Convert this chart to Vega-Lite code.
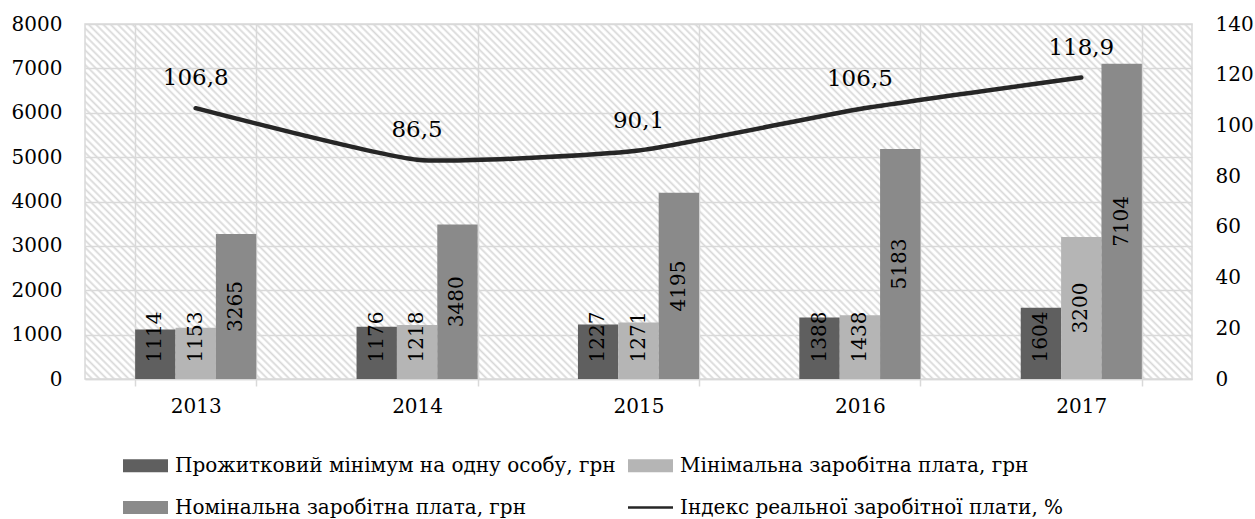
{
  "$schema": "https://vega.github.io/schema/vega-lite/v6.json",
  "width": 1107,
  "height": 355,
  "autosize": {"type": "none"},
  "padding": {"left": 85, "top": 24, "right": 63, "bottom": 140},
  "background": "white",
  "datasets": {
    "bars": [
      {"year": "2013", "series": "Прожитковий мінімум на одну особу, грн", "value": 1114},
      {"year": "2013", "series": "Мінімальна заробітна плата, грн", "value": 1153},
      {"year": "2013", "series": "Номінальна заробітна плата, грн", "value": 3265},
      {"year": "2014", "series": "Прожитковий мінімум на одну особу, грн", "value": 1176},
      {"year": "2014", "series": "Мінімальна заробітна плата, грн", "value": 1218},
      {"year": "2014", "series": "Номінальна заробітна плата, грн", "value": 3480},
      {"year": "2015", "series": "Прожитковий мінімум на одну особу, грн", "value": 1227},
      {"year": "2015", "series": "Мінімальна заробітна плата, грн", "value": 1271},
      {"year": "2015", "series": "Номінальна заробітна плата, грн", "value": 4195},
      {"year": "2016", "series": "Прожитковий мінімум на одну особу, грн", "value": 1388},
      {"year": "2016", "series": "Мінімальна заробітна плата, грн", "value": 1438},
      {"year": "2016", "series": "Номінальна заробітна плата, грн", "value": 5183},
      {"year": "2017", "series": "Прожитковий мінімум на одну особу, грн", "value": 1604},
      {"year": "2017", "series": "Мінімальна заробітна плата, грн", "value": 3200},
      {"year": "2017", "series": "Номінальна заробітна плата, грн", "value": 7104}
    ],
    "line": [
      {"year": "2013", "index": 106.8},
      {"year": "2014", "index": 86.5},
      {"year": "2015", "index": 90.1},
      {"year": "2016", "index": 106.5},
      {"year": "2017", "index": 118.9}
    ]
  },
  "encoding": {
    "x": {
      "field": "year",
      "type": "nominal",
      "scale": {"paddingInner": 0.453, "paddingOuter": 0.2265},
      "axis": {
        "title": null,
        "labelAngle": 0,
        "grid": true,
        "gridColor": "#d9d9d9",
        "gridWidth": 1.5,
        "tickBand": "extent",
        "ticks": true,
        "tickColor": "#d9d9d9",
        "tickWidth": 1.5,
        "tickSize": 7,
        "domainColor": "#d9d9d9",
        "domainWidth": 1.5,
        "labelPadding": 10,
        "zindex": 0
      }
    }
  },
  "layer": [
    {
      "data": {"name": "bars"},
      "layer": [
        {
          "mark": {"type": "bar"},
          "encoding": {
            "xOffset": {
              "field": "series",
              "type": "nominal",
              "scale": {"paddingInner": 0, "paddingOuter": 0, "domain": ["Прожитковий мінімум на одну особу, грн", "Мінімальна заробітна плата, грн", "Номінальна заробітна плата, грн"]}
            },
            "y": {
              "field": "value",
              "type": "quantitative",
              "scale": {"domain": [0, 8000], "nice": false},
              "axis": {
                "title": null,
                "values": [0, 1000, 2000, 3000, 4000, 5000, 6000, 7000, 8000],
                "format": "d",
                "grid": true,
                "gridColor": "#d9d9d9",
                "gridWidth": 1.5,
                "ticks": false,
                "domain": false,
                "labelPadding": 23,
                "zindex": 0
              }
            },
            "color": {
              "field": "series",
              "type": "nominal",
              "scale": {
                "domain": ["Прожитковий мінімум на одну особу, грн", "Мінімальна заробітна плата, грн", "Номінальна заробітна плата, грн", "Індекс реальної заробітної плати, %"],
                "range": ["#5f5f5f", "#b5b5b5", "#8a8a8a", "#262626"]
              },
              "legend": {
                "title": null,
                "orient": "none",
                "legendX": 38,
                "legendY": 419,
                "columns": 2,
                "values": ["Прожитковий мінімум на одну особу, грн", "Номінальна заробітна плата, грн", "Мінімальна заробітна плата, грн", "Індекс реальної заробітної плати, %"],
                "symbolSize": 2025,
                "symbolType": "M-1,-0.29H1V0.29H-1Z",
                "symbolStrokeWidth": 0,
                "labelOffset": 7,
                "columnPadding": 12,
                "rowPadding": 9,
                "labelFontSize": 20,
                "labelFont": "DejaVu Serif",
                "labelColor": "#000000",
                "labelLimit": 0,
                "encode": {
                  "symbols": {
                    "update": {
                      "shape": {"signal": "datum.value === 'Індекс реальної заробітної плати, %' ? 'M-1,-0.06H1V0.06H-1Z' : 'M-1,-0.29H1V0.29H-1Z'"},
                      "fill": {"scale": "color", "field": "value"},
                      "stroke": {"value": "transparent"},
                      "opacity": {"value": 1},
                      "fillOpacity": {"value": 1}
                    }
                  }
                }
              }
            }
          }
        },
        {
          "transform": [{"calculate": "max(datum.value / 2, 946)", "as": "labelY"}],
          "mark": {"type": "text", "angle": 270, "align": "center", "baseline": "middle", "fontSize": 20, "font": "DejaVu Serif", "color": "#000000"},
          "encoding": {
            "xOffset": {
              "field": "series",
              "type": "nominal",
              "scale": {"paddingInner": 0, "paddingOuter": 0, "domain": ["Прожитковий мінімум на одну особу, грн", "Мінімальна заробітна плата, грн", "Номінальна заробітна плата, грн"]}
            },
            "y": {"field": "labelY", "type": "quantitative"},
            "text": {"field": "value", "type": "quantitative", "format": "d"}
          }
        }
      ]
    },
    {
      "data": {"name": "line"},
      "layer": [
        {
          "mark": {"type": "line", "interpolate": "cardinal", "tension": 0.5, "strokeWidth": 4.5, "strokeCap": "round"},
          "encoding": {
            "y": {
              "field": "index",
              "type": "quantitative",
              "scale": {"domain": [0, 140], "nice": false},
              "axis": {
                "title": null,
                "orient": "right",
                "values": [0, 20, 40, 60, 80, 100, 120, 140],
                "format": "d",
                "grid": false,
                "ticks": false,
                "domain": false,
                "labelPadding": 23
              }
            },
            "color": {"datum": "Індекс реальної заробітної плати, %", "type": "nominal"}
          }
        },
        {
          "mark": {"type": "text", "dy": -30, "fontSize": 23, "font": "DejaVu Serif", "color": "#000000"},
          "encoding": {
            "y": {"field": "index", "type": "quantitative"},
            "text": {"field": "index", "type": "quantitative", "format": ".1f"}
          }
        }
      ]
    }
  ],
  "resolve": {"scale": {"y": "independent"}},
  "config": {
    "locale": {"number": {"decimal": ",", "thousands": " ", "grouping": [3], "currency": ["", ""]}},
    "view": {
      "stroke": "#d9d9d9",
      "strokeWidth": 1.5,
      "fill": {
        "gradient": "linear",
        "x1": 0, "y1": 1, "x2": 1.1976, "y2": 0.6159,
        "stops": [
{"offset":0,"color":"#d8d8d8"},{"offset":0.0017,"color":"#fff"},{"offset":0.0033,"color":"#fff"},{"offset":0.005,"color":"#d8d8d8"},{"offset":0.0067,"color":"#fff"},{"offset":0.0083,"color":"#fff"},
{"offset":0.01,"color":"#d8d8d8"},{"offset":0.0117,"color":"#fff"},{"offset":0.0133,"color":"#fff"},{"offset":0.015,"color":"#d8d8d8"},{"offset":0.0167,"color":"#fff"},{"offset":0.0183,"color":"#fff"},
{"offset":0.02,"color":"#d8d8d8"},{"offset":0.0217,"color":"#fff"},{"offset":0.0233,"color":"#fff"},{"offset":0.025,"color":"#d8d8d8"},{"offset":0.0267,"color":"#fff"},{"offset":0.0283,"color":"#fff"},
{"offset":0.03,"color":"#d8d8d8"},{"offset":0.0317,"color":"#fff"},{"offset":0.0333,"color":"#fff"},{"offset":0.035,"color":"#d8d8d8"},{"offset":0.0367,"color":"#fff"},{"offset":0.0383,"color":"#fff"},
{"offset":0.04,"color":"#d8d8d8"},{"offset":0.0417,"color":"#fff"},{"offset":0.0433,"color":"#fff"},{"offset":0.045,"color":"#d8d8d8"},{"offset":0.0467,"color":"#fff"},{"offset":0.0483,"color":"#fff"},
{"offset":0.05,"color":"#d8d8d8"},{"offset":0.0517,"color":"#fff"},{"offset":0.0533,"color":"#fff"},{"offset":0.055,"color":"#d8d8d8"},{"offset":0.0567,"color":"#fff"},{"offset":0.0583,"color":"#fff"},
{"offset":0.06,"color":"#d8d8d8"},{"offset":0.0617,"color":"#fff"},{"offset":0.0633,"color":"#fff"},{"offset":0.065,"color":"#d8d8d8"},{"offset":0.0667,"color":"#fff"},{"offset":0.0683,"color":"#fff"},
{"offset":0.07,"color":"#d8d8d8"},{"offset":0.0717,"color":"#fff"},{"offset":0.0733,"color":"#fff"},{"offset":0.075,"color":"#d8d8d8"},{"offset":0.0767,"color":"#fff"},{"offset":0.0783,"color":"#fff"},
{"offset":0.08,"color":"#d8d8d8"},{"offset":0.0817,"color":"#fff"},{"offset":0.0833,"color":"#fff"},{"offset":0.085,"color":"#d8d8d8"},{"offset":0.0867,"color":"#fff"},{"offset":0.0883,"color":"#fff"},
{"offset":0.09,"color":"#d8d8d8"},{"offset":0.0917,"color":"#fff"},{"offset":0.0933,"color":"#fff"},{"offset":0.095,"color":"#d8d8d8"},{"offset":0.0967,"color":"#fff"},{"offset":0.0983,"color":"#fff"},
{"offset":0.10,"color":"#d8d8d8"},{"offset":0.1017,"color":"#fff"},{"offset":0.1033,"color":"#fff"},{"offset":0.105,"color":"#d8d8d8"},{"offset":0.1067,"color":"#fff"},{"offset":0.1083,"color":"#fff"},
{"offset":0.11,"color":"#d8d8d8"},{"offset":0.1117,"color":"#fff"},{"offset":0.1133,"color":"#fff"},{"offset":0.115,"color":"#d8d8d8"},{"offset":0.1167,"color":"#fff"},{"offset":0.1183,"color":"#fff"},
{"offset":0.12,"color":"#d8d8d8"},{"offset":0.1217,"color":"#fff"},{"offset":0.1233,"color":"#fff"},{"offset":0.125,"color":"#d8d8d8"},{"offset":0.1267,"color":"#fff"},{"offset":0.1283,"color":"#fff"},
{"offset":0.13,"color":"#d8d8d8"},{"offset":0.1317,"color":"#fff"},{"offset":0.1333,"color":"#fff"},{"offset":0.135,"color":"#d8d8d8"},{"offset":0.1367,"color":"#fff"},{"offset":0.1383,"color":"#fff"},
{"offset":0.14,"color":"#d8d8d8"},{"offset":0.1417,"color":"#fff"},{"offset":0.1433,"color":"#fff"},{"offset":0.145,"color":"#d8d8d8"},{"offset":0.1467,"color":"#fff"},{"offset":0.1483,"color":"#fff"},
{"offset":0.15,"color":"#d8d8d8"},{"offset":0.1517,"color":"#fff"},{"offset":0.1533,"color":"#fff"},{"offset":0.155,"color":"#d8d8d8"},{"offset":0.1567,"color":"#fff"},{"offset":0.1583,"color":"#fff"},
{"offset":0.16,"color":"#d8d8d8"},{"offset":0.1617,"color":"#fff"},{"offset":0.1633,"color":"#fff"},{"offset":0.165,"color":"#d8d8d8"},{"offset":0.1667,"color":"#fff"},{"offset":0.1683,"color":"#fff"},
{"offset":0.17,"color":"#d8d8d8"},{"offset":0.1717,"color":"#fff"},{"offset":0.1733,"color":"#fff"},{"offset":0.175,"color":"#d8d8d8"},{"offset":0.1767,"color":"#fff"},{"offset":0.1783,"color":"#fff"},
{"offset":0.18,"color":"#d8d8d8"},{"offset":0.1817,"color":"#fff"},{"offset":0.1833,"color":"#fff"},{"offset":0.185,"color":"#d8d8d8"},{"offset":0.1867,"color":"#fff"},{"offset":0.1883,"color":"#fff"},
{"offset":0.19,"color":"#d8d8d8"},{"offset":0.1917,"color":"#fff"},{"offset":0.1933,"color":"#fff"},{"offset":0.195,"color":"#d8d8d8"},{"offset":0.1967,"color":"#fff"},{"offset":0.1983,"color":"#fff"},
{"offset":0.20,"color":"#d8d8d8"},{"offset":0.2017,"color":"#fff"},{"offset":0.2033,"color":"#fff"},{"offset":0.205,"color":"#d8d8d8"},{"offset":0.2067,"color":"#fff"},{"offset":0.2083,"color":"#fff"},
{"offset":0.21,"color":"#d8d8d8"},{"offset":0.2117,"color":"#fff"},{"offset":0.2133,"color":"#fff"},{"offset":0.215,"color":"#d8d8d8"},{"offset":0.2167,"color":"#fff"},{"offset":0.2183,"color":"#fff"},
{"offset":0.22,"color":"#d8d8d8"},{"offset":0.2217,"color":"#fff"},{"offset":0.2233,"color":"#fff"},{"offset":0.225,"color":"#d8d8d8"},{"offset":0.2267,"color":"#fff"},{"offset":0.2283,"color":"#fff"},
{"offset":0.23,"color":"#d8d8d8"},{"offset":0.2317,"color":"#fff"},{"offset":0.2333,"color":"#fff"},{"offset":0.235,"color":"#d8d8d8"},{"offset":0.2367,"color":"#fff"},{"offset":0.2383,"color":"#fff"},
{"offset":0.24,"color":"#d8d8d8"},{"offset":0.2417,"color":"#fff"},{"offset":0.2433,"color":"#fff"},{"offset":0.245,"color":"#d8d8d8"},{"offset":0.2467,"color":"#fff"},{"offset":0.2483,"color":"#fff"},
{"offset":0.25,"color":"#d8d8d8"},{"offset":0.2517,"color":"#fff"},{"offset":0.2533,"color":"#fff"},{"offset":0.255,"color":"#d8d8d8"},{"offset":0.2567,"color":"#fff"},{"offset":0.2583,"color":"#fff"},
{"offset":0.26,"color":"#d8d8d8"},{"offset":0.2617,"color":"#fff"},{"offset":0.2633,"color":"#fff"},{"offset":0.265,"color":"#d8d8d8"},{"offset":0.2667,"color":"#fff"},{"offset":0.2683,"color":"#fff"},
{"offset":0.27,"color":"#d8d8d8"},{"offset":0.2717,"color":"#fff"},{"offset":0.2733,"color":"#fff"},{"offset":0.275,"color":"#d8d8d8"},{"offset":0.2767,"color":"#fff"},{"offset":0.2783,"color":"#fff"},
{"offset":0.28,"color":"#d8d8d8"},{"offset":0.2817,"color":"#fff"},{"offset":0.2833,"color":"#fff"},{"offset":0.285,"color":"#d8d8d8"},{"offset":0.2867,"color":"#fff"},{"offset":0.2883,"color":"#fff"},
{"offset":0.29,"color":"#d8d8d8"},{"offset":0.2917,"color":"#fff"},{"offset":0.2933,"color":"#fff"},{"offset":0.295,"color":"#d8d8d8"},{"offset":0.2967,"color":"#fff"},{"offset":0.2983,"color":"#fff"},
{"offset":0.30,"color":"#d8d8d8"},{"offset":0.3017,"color":"#fff"},{"offset":0.3033,"color":"#fff"},{"offset":0.305,"color":"#d8d8d8"},{"offset":0.3067,"color":"#fff"},{"offset":0.3083,"color":"#fff"},
{"offset":0.31,"color":"#d8d8d8"},{"offset":0.3117,"color":"#fff"},{"offset":0.3133,"color":"#fff"},{"offset":0.315,"color":"#d8d8d8"},{"offset":0.3167,"color":"#fff"},{"offset":0.3183,"color":"#fff"},
{"offset":0.32,"color":"#d8d8d8"},{"offset":0.3217,"color":"#fff"},{"offset":0.3233,"color":"#fff"},{"offset":0.325,"color":"#d8d8d8"},{"offset":0.3267,"color":"#fff"},{"offset":0.3283,"color":"#fff"},
{"offset":0.33,"color":"#d8d8d8"},{"offset":0.3317,"color":"#fff"},{"offset":0.3333,"color":"#fff"},{"offset":0.335,"color":"#d8d8d8"},{"offset":0.3367,"color":"#fff"},{"offset":0.3383,"color":"#fff"},
{"offset":0.34,"color":"#d8d8d8"},{"offset":0.3417,"color":"#fff"},{"offset":0.3433,"color":"#fff"},{"offset":0.345,"color":"#d8d8d8"},{"offset":0.3467,"color":"#fff"},{"offset":0.3483,"color":"#fff"},
{"offset":0.35,"color":"#d8d8d8"},{"offset":0.3517,"color":"#fff"},{"offset":0.3533,"color":"#fff"},{"offset":0.355,"color":"#d8d8d8"},{"offset":0.3567,"color":"#fff"},{"offset":0.3583,"color":"#fff"},
{"offset":0.36,"color":"#d8d8d8"},{"offset":0.3617,"color":"#fff"},{"offset":0.3633,"color":"#fff"},{"offset":0.365,"color":"#d8d8d8"},{"offset":0.3667,"color":"#fff"},{"offset":0.3683,"color":"#fff"},
{"offset":0.37,"color":"#d8d8d8"},{"offset":0.3717,"color":"#fff"},{"offset":0.3733,"color":"#fff"},{"offset":0.375,"color":"#d8d8d8"},{"offset":0.3767,"color":"#fff"},{"offset":0.3783,"color":"#fff"},
{"offset":0.38,"color":"#d8d8d8"},{"offset":0.3817,"color":"#fff"},{"offset":0.3833,"color":"#fff"},{"offset":0.385,"color":"#d8d8d8"},{"offset":0.3867,"color":"#fff"},{"offset":0.3883,"color":"#fff"},
{"offset":0.39,"color":"#d8d8d8"},{"offset":0.3917,"color":"#fff"},{"offset":0.3933,"color":"#fff"},{"offset":0.395,"color":"#d8d8d8"},{"offset":0.3967,"color":"#fff"},{"offset":0.3983,"color":"#fff"},
{"offset":0.40,"color":"#d8d8d8"},{"offset":0.4017,"color":"#fff"},{"offset":0.4033,"color":"#fff"},{"offset":0.405,"color":"#d8d8d8"},{"offset":0.4067,"color":"#fff"},{"offset":0.4083,"color":"#fff"},
{"offset":0.41,"color":"#d8d8d8"},{"offset":0.4117,"color":"#fff"},{"offset":0.4133,"color":"#fff"},{"offset":0.415,"color":"#d8d8d8"},{"offset":0.4167,"color":"#fff"},{"offset":0.4183,"color":"#fff"},
{"offset":0.42,"color":"#d8d8d8"},{"offset":0.4217,"color":"#fff"},{"offset":0.4233,"color":"#fff"},{"offset":0.425,"color":"#d8d8d8"},{"offset":0.4267,"color":"#fff"},{"offset":0.4283,"color":"#fff"},
{"offset":0.43,"color":"#d8d8d8"},{"offset":0.4317,"color":"#fff"},{"offset":0.4333,"color":"#fff"},{"offset":0.435,"color":"#d8d8d8"},{"offset":0.4367,"color":"#fff"},{"offset":0.4383,"color":"#fff"},
{"offset":0.44,"color":"#d8d8d8"},{"offset":0.4417,"color":"#fff"},{"offset":0.4433,"color":"#fff"},{"offset":0.445,"color":"#d8d8d8"},{"offset":0.4467,"color":"#fff"},{"offset":0.4483,"color":"#fff"},
{"offset":0.45,"color":"#d8d8d8"},{"offset":0.4517,"color":"#fff"},{"offset":0.4533,"color":"#fff"},{"offset":0.455,"color":"#d8d8d8"},{"offset":0.4567,"color":"#fff"},{"offset":0.4583,"color":"#fff"},
{"offset":0.46,"color":"#d8d8d8"},{"offset":0.4617,"color":"#fff"},{"offset":0.4633,"color":"#fff"},{"offset":0.465,"color":"#d8d8d8"},{"offset":0.4667,"color":"#fff"},{"offset":0.4683,"color":"#fff"},
{"offset":0.47,"color":"#d8d8d8"},{"offset":0.4717,"color":"#fff"},{"offset":0.4733,"color":"#fff"},{"offset":0.475,"color":"#d8d8d8"},{"offset":0.4767,"color":"#fff"},{"offset":0.4783,"color":"#fff"},
{"offset":0.48,"color":"#d8d8d8"},{"offset":0.4817,"color":"#fff"},{"offset":0.4833,"color":"#fff"},{"offset":0.485,"color":"#d8d8d8"},{"offset":0.4867,"color":"#fff"},{"offset":0.4883,"color":"#fff"},
{"offset":0.49,"color":"#d8d8d8"},{"offset":0.4917,"color":"#fff"},{"offset":0.4933,"color":"#fff"},{"offset":0.495,"color":"#d8d8d8"},{"offset":0.4967,"color":"#fff"},{"offset":0.4983,"color":"#fff"},
{"offset":0.50,"color":"#d8d8d8"},{"offset":0.5017,"color":"#fff"},{"offset":0.5033,"color":"#fff"},{"offset":0.505,"color":"#d8d8d8"},{"offset":0.5067,"color":"#fff"},{"offset":0.5083,"color":"#fff"},
{"offset":0.51,"color":"#d8d8d8"},{"offset":0.5117,"color":"#fff"},{"offset":0.5133,"color":"#fff"},{"offset":0.515,"color":"#d8d8d8"},{"offset":0.5167,"color":"#fff"},{"offset":0.5183,"color":"#fff"},
{"offset":0.52,"color":"#d8d8d8"},{"offset":0.5217,"color":"#fff"},{"offset":0.5233,"color":"#fff"},{"offset":0.525,"color":"#d8d8d8"},{"offset":0.5267,"color":"#fff"},{"offset":0.5283,"color":"#fff"},
{"offset":0.53,"color":"#d8d8d8"},{"offset":0.5317,"color":"#fff"},{"offset":0.5333,"color":"#fff"},{"offset":0.535,"color":"#d8d8d8"},{"offset":0.5367,"color":"#fff"},{"offset":0.5383,"color":"#fff"},
{"offset":0.54,"color":"#d8d8d8"},{"offset":0.5417,"color":"#fff"},{"offset":0.5433,"color":"#fff"},{"offset":0.545,"color":"#d8d8d8"},{"offset":0.5467,"color":"#fff"},{"offset":0.5483,"color":"#fff"},
{"offset":0.55,"color":"#d8d8d8"},{"offset":0.5517,"color":"#fff"},{"offset":0.5533,"color":"#fff"},{"offset":0.555,"color":"#d8d8d8"},{"offset":0.5567,"color":"#fff"},{"offset":0.5583,"color":"#fff"},
{"offset":0.56,"color":"#d8d8d8"},{"offset":0.5617,"color":"#fff"},{"offset":0.5633,"color":"#fff"},{"offset":0.565,"color":"#d8d8d8"},{"offset":0.5667,"color":"#fff"},{"offset":0.5683,"color":"#fff"},
{"offset":0.57,"color":"#d8d8d8"},{"offset":0.5717,"color":"#fff"},{"offset":0.5733,"color":"#fff"},{"offset":0.575,"color":"#d8d8d8"},{"offset":0.5767,"color":"#fff"},{"offset":0.5783,"color":"#fff"},
{"offset":0.58,"color":"#d8d8d8"},{"offset":0.5817,"color":"#fff"},{"offset":0.5833,"color":"#fff"},{"offset":0.585,"color":"#d8d8d8"},{"offset":0.5867,"color":"#fff"},{"offset":0.5883,"color":"#fff"},
{"offset":0.59,"color":"#d8d8d8"},{"offset":0.5917,"color":"#fff"},{"offset":0.5933,"color":"#fff"},{"offset":0.595,"color":"#d8d8d8"},{"offset":0.5967,"color":"#fff"},{"offset":0.5983,"color":"#fff"},
{"offset":0.60,"color":"#d8d8d8"},{"offset":0.6017,"color":"#fff"},{"offset":0.6033,"color":"#fff"},{"offset":0.605,"color":"#d8d8d8"},{"offset":0.6067,"color":"#fff"},{"offset":0.6083,"color":"#fff"},
{"offset":0.61,"color":"#d8d8d8"},{"offset":0.6117,"color":"#fff"},{"offset":0.6133,"color":"#fff"},{"offset":0.615,"color":"#d8d8d8"},{"offset":0.6167,"color":"#fff"},{"offset":0.6183,"color":"#fff"},
{"offset":0.62,"color":"#d8d8d8"},{"offset":0.6217,"color":"#fff"},{"offset":0.6233,"color":"#fff"},{"offset":0.625,"color":"#d8d8d8"},{"offset":0.6267,"color":"#fff"},{"offset":0.6283,"color":"#fff"},
{"offset":0.63,"color":"#d8d8d8"},{"offset":0.6317,"color":"#fff"},{"offset":0.6333,"color":"#fff"},{"offset":0.635,"color":"#d8d8d8"},{"offset":0.6367,"color":"#fff"},{"offset":0.6383,"color":"#fff"},
{"offset":0.64,"color":"#d8d8d8"},{"offset":0.6417,"color":"#fff"},{"offset":0.6433,"color":"#fff"},{"offset":0.645,"color":"#d8d8d8"},{"offset":0.6467,"color":"#fff"},{"offset":0.6483,"color":"#fff"},
{"offset":0.65,"color":"#d8d8d8"},{"offset":0.6517,"color":"#fff"},{"offset":0.6533,"color":"#fff"},{"offset":0.655,"color":"#d8d8d8"},{"offset":0.6567,"color":"#fff"},{"offset":0.6583,"color":"#fff"},
{"offset":0.66,"color":"#d8d8d8"},{"offset":0.6617,"color":"#fff"},{"offset":0.6633,"color":"#fff"},{"offset":0.665,"color":"#d8d8d8"},{"offset":0.6667,"color":"#fff"},{"offset":0.6683,"color":"#fff"},
{"offset":0.67,"color":"#d8d8d8"},{"offset":0.6717,"color":"#fff"},{"offset":0.6733,"color":"#fff"},{"offset":0.675,"color":"#d8d8d8"},{"offset":0.6767,"color":"#fff"},{"offset":0.6783,"color":"#fff"},
{"offset":0.68,"color":"#d8d8d8"},{"offset":0.6817,"color":"#fff"},{"offset":0.6833,"color":"#fff"},{"offset":0.685,"color":"#d8d8d8"},{"offset":0.6867,"color":"#fff"},{"offset":0.6883,"color":"#fff"},
{"offset":0.69,"color":"#d8d8d8"},{"offset":0.6917,"color":"#fff"},{"offset":0.6933,"color":"#fff"},{"offset":0.695,"color":"#d8d8d8"},{"offset":0.6967,"color":"#fff"},{"offset":0.6983,"color":"#fff"},
{"offset":0.70,"color":"#d8d8d8"},{"offset":0.7017,"color":"#fff"},{"offset":0.7033,"color":"#fff"},{"offset":0.705,"color":"#d8d8d8"},{"offset":0.7067,"color":"#fff"},{"offset":0.7083,"color":"#fff"},
{"offset":0.71,"color":"#d8d8d8"},{"offset":0.7117,"color":"#fff"},{"offset":0.7133,"color":"#fff"},{"offset":0.715,"color":"#d8d8d8"},{"offset":0.7167,"color":"#fff"},{"offset":0.7183,"color":"#fff"},
{"offset":0.72,"color":"#d8d8d8"},{"offset":0.7217,"color":"#fff"},{"offset":0.7233,"color":"#fff"},{"offset":0.725,"color":"#d8d8d8"},{"offset":0.7267,"color":"#fff"},{"offset":0.7283,"color":"#fff"},
{"offset":0.73,"color":"#d8d8d8"},{"offset":0.7317,"color":"#fff"},{"offset":0.7333,"color":"#fff"},{"offset":0.735,"color":"#d8d8d8"},{"offset":0.7367,"color":"#fff"},{"offset":0.7383,"color":"#fff"},
{"offset":0.74,"color":"#d8d8d8"},{"offset":0.7417,"color":"#fff"},{"offset":0.7433,"color":"#fff"},{"offset":0.745,"color":"#d8d8d8"},{"offset":0.7467,"color":"#fff"},{"offset":0.7483,"color":"#fff"},
{"offset":0.75,"color":"#d8d8d8"},{"offset":0.7517,"color":"#fff"},{"offset":0.7533,"color":"#fff"},{"offset":0.755,"color":"#d8d8d8"},{"offset":0.7567,"color":"#fff"},{"offset":0.7583,"color":"#fff"},
{"offset":0.76,"color":"#d8d8d8"},{"offset":0.7617,"color":"#fff"},{"offset":0.7633,"color":"#fff"},{"offset":0.765,"color":"#d8d8d8"},{"offset":0.7667,"color":"#fff"},{"offset":0.7683,"color":"#fff"},
{"offset":0.77,"color":"#d8d8d8"},{"offset":0.7717,"color":"#fff"},{"offset":0.7733,"color":"#fff"},{"offset":0.775,"color":"#d8d8d8"},{"offset":0.7767,"color":"#fff"},{"offset":0.7783,"color":"#fff"},
{"offset":0.78,"color":"#d8d8d8"},{"offset":0.7817,"color":"#fff"},{"offset":0.7833,"color":"#fff"},{"offset":0.785,"color":"#d8d8d8"},{"offset":0.7867,"color":"#fff"},{"offset":0.7883,"color":"#fff"},
{"offset":0.79,"color":"#d8d8d8"},{"offset":0.7917,"color":"#fff"},{"offset":0.7933,"color":"#fff"},{"offset":0.795,"color":"#d8d8d8"},{"offset":0.7967,"color":"#fff"},{"offset":0.7983,"color":"#fff"},
{"offset":0.80,"color":"#d8d8d8"},{"offset":0.8017,"color":"#fff"},{"offset":0.8033,"color":"#fff"},{"offset":0.805,"color":"#d8d8d8"},{"offset":0.8067,"color":"#fff"},{"offset":0.8083,"color":"#fff"},
{"offset":0.81,"color":"#d8d8d8"},{"offset":0.8117,"color":"#fff"},{"offset":0.8133,"color":"#fff"},{"offset":0.815,"color":"#d8d8d8"},{"offset":0.8167,"color":"#fff"},{"offset":0.8183,"color":"#fff"},
{"offset":0.82,"color":"#d8d8d8"},{"offset":0.8217,"color":"#fff"},{"offset":0.8233,"color":"#fff"},{"offset":0.825,"color":"#d8d8d8"},{"offset":0.8267,"color":"#fff"},{"offset":0.8283,"color":"#fff"},
{"offset":0.83,"color":"#d8d8d8"},{"offset":0.8317,"color":"#fff"},{"offset":0.8333,"color":"#fff"},{"offset":0.835,"color":"#d8d8d8"},{"offset":0.8367,"color":"#fff"},{"offset":0.8383,"color":"#fff"},
{"offset":0.84,"color":"#d8d8d8"},{"offset":0.8417,"color":"#fff"},{"offset":0.8433,"color":"#fff"},{"offset":0.845,"color":"#d8d8d8"},{"offset":0.8467,"color":"#fff"},{"offset":0.8483,"color":"#fff"},
{"offset":0.85,"color":"#d8d8d8"},{"offset":0.8517,"color":"#fff"},{"offset":0.8533,"color":"#fff"},{"offset":0.855,"color":"#d8d8d8"},{"offset":0.8567,"color":"#fff"},{"offset":0.8583,"color":"#fff"},
{"offset":0.86,"color":"#d8d8d8"},{"offset":0.8617,"color":"#fff"},{"offset":0.8633,"color":"#fff"},{"offset":0.865,"color":"#d8d8d8"},{"offset":0.8667,"color":"#fff"},{"offset":0.8683,"color":"#fff"},
{"offset":0.87,"color":"#d8d8d8"},{"offset":0.8717,"color":"#fff"},{"offset":0.8733,"color":"#fff"},{"offset":0.875,"color":"#d8d8d8"},{"offset":0.8767,"color":"#fff"},{"offset":0.8783,"color":"#fff"},
{"offset":0.88,"color":"#d8d8d8"},{"offset":0.8817,"color":"#fff"},{"offset":0.8833,"color":"#fff"},{"offset":0.885,"color":"#d8d8d8"},{"offset":0.8867,"color":"#fff"},{"offset":0.8883,"color":"#fff"},
{"offset":0.89,"color":"#d8d8d8"},{"offset":0.8917,"color":"#fff"},{"offset":0.8933,"color":"#fff"},{"offset":0.895,"color":"#d8d8d8"},{"offset":0.8967,"color":"#fff"},{"offset":0.8983,"color":"#fff"},
{"offset":0.90,"color":"#d8d8d8"},{"offset":0.9017,"color":"#fff"},{"offset":0.9033,"color":"#fff"},{"offset":0.905,"color":"#d8d8d8"},{"offset":0.9067,"color":"#fff"},{"offset":0.9083,"color":"#fff"},
{"offset":0.91,"color":"#d8d8d8"},{"offset":0.9117,"color":"#fff"},{"offset":0.9133,"color":"#fff"},{"offset":0.915,"color":"#d8d8d8"},{"offset":0.9167,"color":"#fff"},{"offset":0.9183,"color":"#fff"},
{"offset":0.92,"color":"#d8d8d8"},{"offset":0.9217,"color":"#fff"},{"offset":0.9233,"color":"#fff"},{"offset":0.925,"color":"#d8d8d8"},{"offset":0.9267,"color":"#fff"},{"offset":0.9283,"color":"#fff"},
{"offset":0.93,"color":"#d8d8d8"},{"offset":0.9317,"color":"#fff"},{"offset":0.9333,"color":"#fff"},{"offset":0.935,"color":"#d8d8d8"},{"offset":0.9367,"color":"#fff"},{"offset":0.9383,"color":"#fff"},
{"offset":0.94,"color":"#d8d8d8"},{"offset":0.9417,"color":"#fff"},{"offset":0.9433,"color":"#fff"},{"offset":0.945,"color":"#d8d8d8"},{"offset":0.9467,"color":"#fff"},{"offset":0.9483,"color":"#fff"},
{"offset":0.95,"color":"#d8d8d8"},{"offset":0.9517,"color":"#fff"},{"offset":0.9533,"color":"#fff"},{"offset":0.955,"color":"#d8d8d8"},{"offset":0.9567,"color":"#fff"},{"offset":0.9583,"color":"#fff"},
{"offset":0.96,"color":"#d8d8d8"},{"offset":0.9617,"color":"#fff"},{"offset":0.9633,"color":"#fff"},{"offset":0.965,"color":"#d8d8d8"},{"offset":0.9667,"color":"#fff"},{"offset":0.9683,"color":"#fff"},
{"offset":0.97,"color":"#d8d8d8"},{"offset":0.9717,"color":"#fff"},{"offset":0.9733,"color":"#fff"},{"offset":0.975,"color":"#d8d8d8"},{"offset":0.9767,"color":"#fff"},{"offset":0.9783,"color":"#fff"},
{"offset":0.98,"color":"#d8d8d8"},{"offset":0.9817,"color":"#fff"},{"offset":0.9833,"color":"#fff"},{"offset":0.985,"color":"#d8d8d8"},{"offset":0.9867,"color":"#fff"},{"offset":0.9883,"color":"#fff"},
{"offset":0.99,"color":"#d8d8d8"},{"offset":0.9917,"color":"#fff"},{"offset":0.9933,"color":"#fff"},{"offset":0.995,"color":"#d8d8d8"},{"offset":0.9967,"color":"#fff"},{"offset":0.9983,"color":"#fff"},
{"offset":1,"color":"#d8d8d8"}
        ]
      }
    },
    "axis": {"labelFont": "DejaVu Serif", "labelFontSize": 20, "labelColor": "#000000"},
    "text": {"font": "DejaVu Serif"}
  }
}
